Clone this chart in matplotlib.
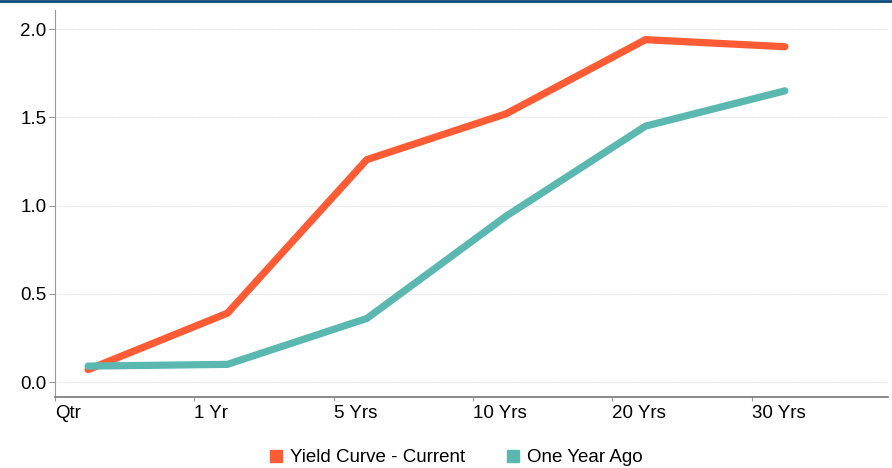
import matplotlib

matplotlib.use("Agg")
import matplotlib.pyplot as plt
from matplotlib.lines import Line2D
import numpy as np

plt.rcParams['font.family'] = ['Liberation Sans', 'DejaVu Sans']

categories = ['Qtr', '1 Yr', '5 Yrs', '10 Yrs', '20 Yrs', '30 Yrs']
current = [0.07, 0.39, 1.26, 1.52, 1.94, 1.90]
year_ago = [0.09, 0.10, 0.36, 0.94, 1.45, 1.65]
y_ticks = [0.0, 0.5, 1.0, 1.5, 2.0]

orange = '#ff5b35'
teal = '#5bb8b1'

fig = plt.figure(figsize=(8.92, 4.68), dpi=100)
ax = fig.add_axes([0.0617, 0.1517, 0.9338, 0.8269])

x = np.arange(len(categories))
ax.plot(x, current, color=orange, lw=5.2, solid_capstyle='round', solid_joinstyle='miter', zorder=3)
ax.plot(x, year_ago, color=teal, lw=5.2, solid_capstyle='round', solid_joinstyle='miter', zorder=3)

ax.set_xlim(-0.237, 5.74)
ax.set_ylim(-0.085, 2.108)
ax.set_xticks(x - 0.237)
ax.set_xticklabels(categories, ha='left', fontsize=13.5)
ax.set_yticks(y_ticks)
ax.set_yticklabels([f'{v:.1f}' for v in y_ticks], fontsize=13.5)

ax.grid(axis='y', color='#e6e6e6', linestyle=(0, (1, 0.5)), lw=0.8)
ax.set_axisbelow(True)
for s in ['top', 'right']:
    ax.spines[s].set_visible(False)
ax.spines['left'].set_color('#999999')
ax.spines['bottom'].set_color('#777777')
ax.spines['bottom'].set_linewidth(1.2)
ax.tick_params(axis='y', length=4, color='#999999', pad=2)
ax.tick_params(axis='x', length=3, color='#999999', pad=3)

handles = [Line2D([], [], marker='s', color='none', markerfacecolor=orange, markeredgecolor=orange, markersize=9),
           Line2D([], [], marker='s', color='none', markerfacecolor=teal, markeredgecolor=teal, markersize=9)]
fig.legend(handles, ['Yield Curve - Current', 'One Year Ago'], loc='center', bbox_to_anchor=(0.511, 0.022),
           ncol=2, frameon=False, fontsize=13.5, handlelength=0.7, handletextpad=0.4, columnspacing=2.2)

fig.add_artist(Line2D([0, 1], [0.998, 0.998], transform=fig.transFigure, color='#0b4a7a', lw=2))

fig.savefig('out.png', dpi=100)
